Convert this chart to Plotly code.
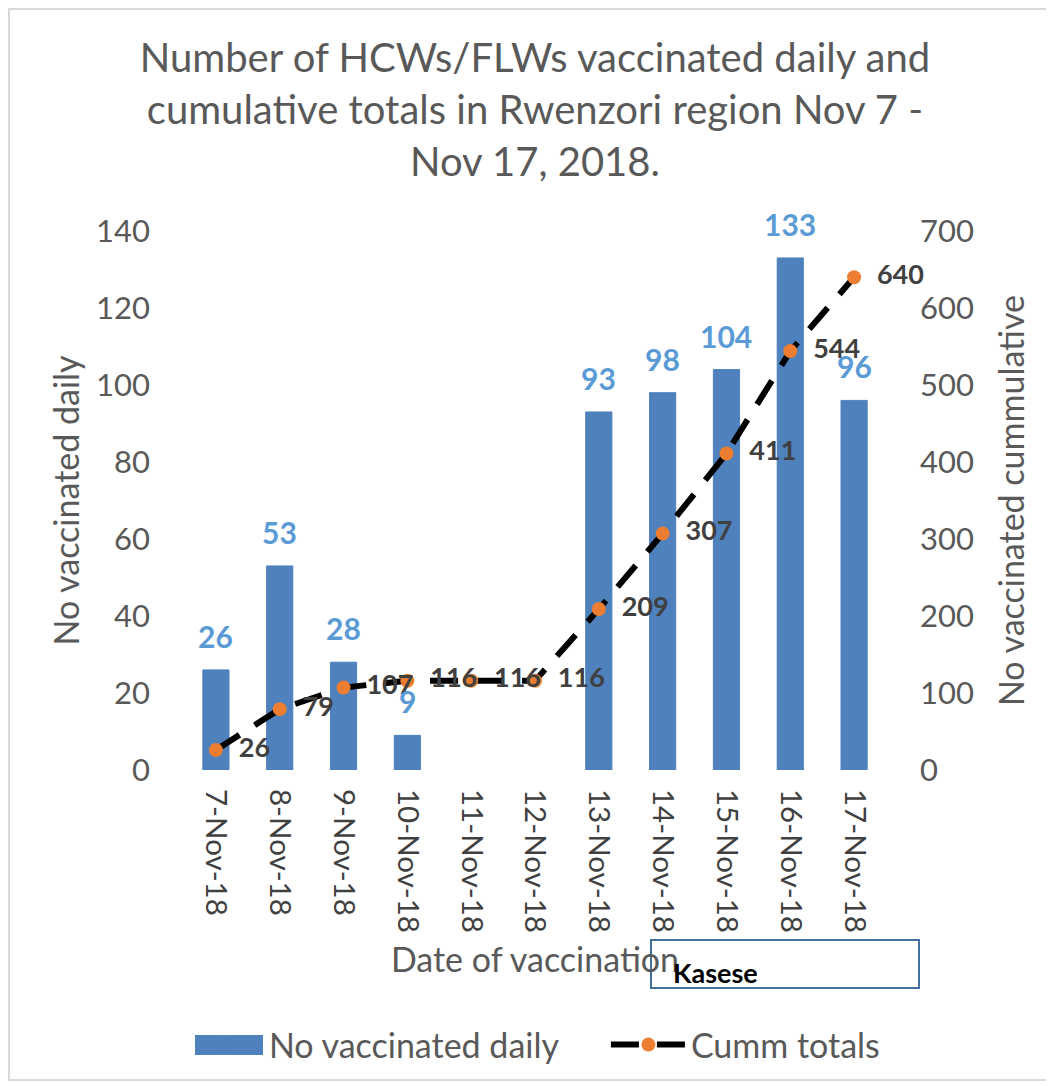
import plotly.graph_objects as go

dates = ["7-Nov-18", "8-Nov-18", "9-Nov-18", "10-Nov-18", "11-Nov-18", "12-Nov-18",
         "13-Nov-18", "14-Nov-18", "15-Nov-18", "16-Nov-18", "17-Nov-18"]
daily = [26, 53, 28, 9, None, None, 93, 98, 104, 133, 96]
cumm = [26, 79, 107, 116, 116, 116, 209, 307, 411, 544, 640]

left_ticks = [0, 20, 40, 60, 80, 100, 120, 140]
right_ticks = [0, 100, 200, 300, 400, 500, 600, 700]

FONT = "Lato"
GREY = "#595959"
BLUE = "#4F81BD"
W, H = 1054, 1086
L, R, T, B = 176, 176, 223, 324
PW, PH = W - L - R, H - T - B


def px(x):
    return (x - L) / PW


def py(y):
    return (H - B - y) / PH


fig = go.Figure()
fig.add_trace(go.Bar(
    x=dates, y=daily, name="No vaccinated daily",
    marker=dict(color=BLUE, line=dict(color=BLUE, width=1)), width=0.41,
))
fig.add_trace(go.Scatter(
    x=dates, y=cumm, name="Cumm totals", yaxis="y2", mode="lines+markers+text",
    line=dict(color="black", width=6, dash="28px,18px"),
    marker=dict(color="#ED7D31", size=14),
    text=["\u00a0\u00a0" + str(v) for v in cumm], textposition="middle right",
    textfont=dict(color="#404040", size=27, family=FONT, weight="bold"),
    cliponaxis=False,
))

for d, v in zip(dates, daily):
    if v is not None:
        fig.add_annotation(x=d, y=v, xref="x", yref="y", text=f"<b>{v}</b>",
                           showarrow=False, yanchor="middle", yshift=34,
                           font=dict(color="#5B9BD5", size=30, family=FONT))

fig.update_layout(
    width=W, height=H,
    paper_bgcolor="white", plot_bgcolor="white",
    margin=dict(l=L, r=R, t=T, b=B),
    font=dict(family=FONT, color=GREY),
    title=dict(text="Number of HCWs/FLWs vaccinated daily and<br>cumulative totals in Rwenzori region Nov 7 -<br>Nov 17, 2018.",
               x=0.5, xanchor="center", y=1 - 64 / H, yanchor="top",
               font=dict(size=40, color=GREY, family=FONT)),
    xaxis=dict(range=[-0.5, 10.5], tickangle=90, tickfont=dict(size=29.5, color="#404040"), automargin=False,
               title=dict(text="Date of vaccination", font=dict(size=34, color=GREY), standoff=16),
               showline=False, showgrid=False, ticks="", ticklabelstandoff=18),
    yaxis=dict(range=[0, 140], tickvals=left_ticks, showgrid=False, zeroline=False, automargin=False,
               tickfont=dict(size=31, color=GREY), ticks="", ticklabelstandoff=33),
    yaxis2=dict(range=[0, 700], tickvals=right_ticks, overlaying="y", side="right", automargin=False,
                showgrid=False, zeroline=False, tickfont=dict(size=31, color=GREY), ticklabelstandoff=33,
                title=dict(text="No vaccinated cummulative", font=dict(size=34, color=GREY), standoff=27)),
    legend=dict(orientation="h", x=px(175.9), xanchor="left", y=py(1037), yanchor="middle",
                font=dict(size=34, color=GREY), traceorder="normal", itemwidth=75,
                entrywidth=332, bgcolor="rgba(0,0,0,0)"),
    bargap=0.59,
)

# left axis title
fig.add_annotation(text="No vaccinated daily", xref="paper", yref="paper",
                   x=px(57), y=0.5, xanchor="center", yanchor="middle", textangle=-90,
                   showarrow=False, font=dict(size=34, color=GREY, family=FONT))
# chart border
fig.add_shape(type="rect", xref="paper", yref="paper",
              x0=px(1), x1=px(1042), y0=py(1072), y1=py(1),
              line=dict(color="#D9D9D9", width=2), layer="below")
# wide legend swatch for the bar series
fig.add_shape(type="rect", xref="paper", yref="paper",
              x0=px(187), x1=px(255), y0=py(1047), y1=py(1027),
              line=dict(width=0), fillcolor=BLUE)
# Kasese text box
fig.add_shape(type="rect", xref="paper", yref="paper",
              x0=px(643), x1=px(911), y0=py(980), y1=py(932),
              line=dict(color="#41719C", width=2), fillcolor="rgba(255,255,255,0)")
fig.add_annotation(text="<b>Kasese</b>", xref="paper", yref="paper",
                   x=px(663), y=py(964), xanchor="left", yanchor="middle",
                   showarrow=False, font=dict(size=27, color="black", family=FONT))

fig.write_html("out.html")
